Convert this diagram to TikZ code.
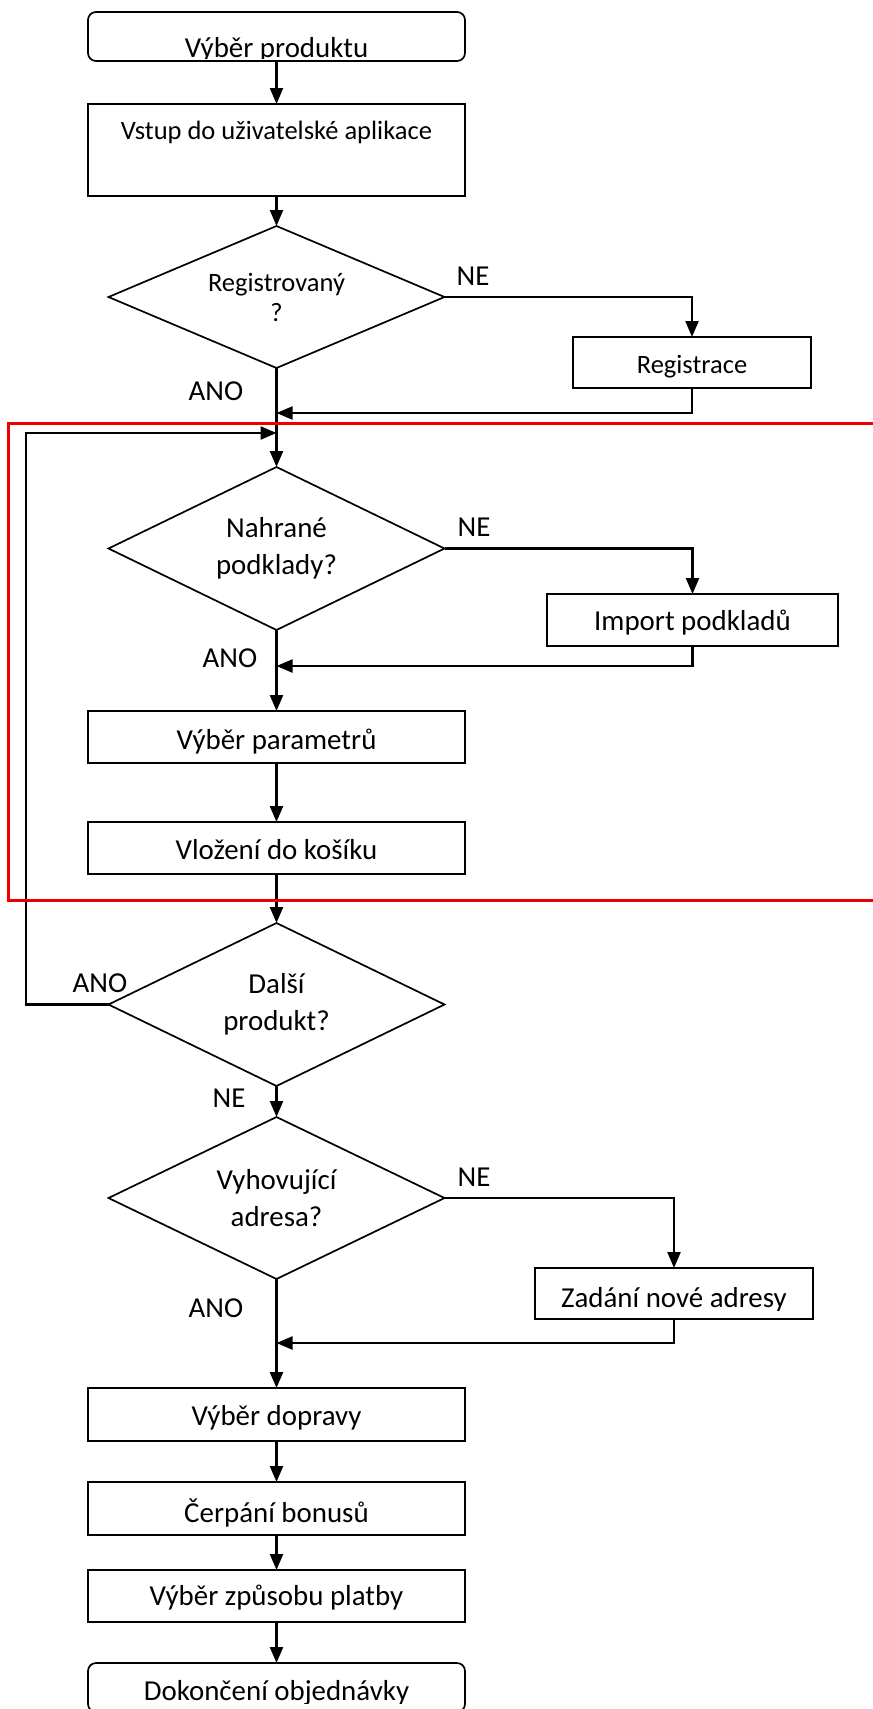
\documentclass[tikz,border=0pt]{standalone}
\usepackage{fontspec}
\setmainfont{Carlito}
\usetikzlibrary{shapes.geometric,arrows.meta}
\newcommand\fsmall{\fontsize{26.5}{30}\selectfont}
\newcommand\flarge{\fontsize{28.9}{37}\selectfont}
\definecolor{framered}{RGB}{238,0,0}
\begin{document}
\begin{tikzpicture}[x=1pt,y=-1pt,
  box/.style={draw, line width=1.7pt, rectangle, inner sep=0pt, outer sep=0pt,
    minimum width=377pt, font=\flarge, text depth=8pt},
  term/.style={box, rounded corners=8pt},
  decision/.style={draw, line width=1.7pt, diamond, inner sep=0pt, outer sep=0pt,
    align=center, minimum width=336pt, font=\flarge},
  flow/.style={line width=2.3pt, -{Triangle[length=16pt,width=13pt]}},
  answer/.style={font=\flarge, anchor=base, inner sep=0pt},
  cliptext/.style={font=\flarge, anchor=base, inner sep=0pt},
  frame/.style={draw=framered, line width=3pt},
]
\fill[white] (0,0) rectangle (873,1709);
\useasboundingbox (0,0) rectangle (873,1709);

% --- process boxes ---
\node[term, minimum height=49pt] (start) at (276.5,36.5) {};
\node[box, minimum height=92pt, font=\fsmall, text height=8pt, text depth=30pt] (vstup) at (276.5,150) {Vstup do uživatelské aplikace};
\node[box, minimum width=238pt, minimum height=51pt, font=\fsmall, text height=29pt] (reg) at (692,362.5) {Registrace};
\node[box, minimum width=291pt, minimum height=52pt, text height=28pt] (imp) at (692.5,620) {Import podkladů};
\node[box, minimum height=52pt, text height=32pt] (par) at (276.5,737) {Výběr parametrů};
\node[box, minimum height=52pt, text height=30pt] (vloz) at (276.5,848) {Vložení do košíku};
\node[box, minimum width=278pt, minimum height=51pt] (zad) at (674,1293.5) {};
\node[box, minimum height=53pt, text height=29pt] (dop) at (276.5,1414.5) {Výběr dopravy};
\node[box, minimum height=53pt] (cer) at (276.5,1508.5) {};
\node[box, minimum height=52pt, text height=26pt] (pla) at (276.5,1596) {Výběr způsobu platby};
\node[term, minimum height=49pt] (dok) at (276.5,1687.5) {};

% texts whose lower part is cut off by the text frame
\begin{scope}
  \clip (88,12) rectangle (465,58.5);
  \node[cliptext] (startT) at (276.5,57) {Výběr produktu};
\end{scope}
\begin{scope}
  \clip (535,1268) rectangle (813,1310);
  \node[cliptext] (zadT) at (674,1307) {Zadání nové adresy};
\end{scope}
\begin{scope}
  \clip (88,1482) rectangle (465,1528);
  \node[cliptext] (cerT) at (276.5,1522) {Čerpání bonusů};
\end{scope}
\begin{scope}
  \clip (88,1663) rectangle (465,1703);
  \node[cliptext] (dokT) at (276.5,1700) {Dokončení objednávky};
\end{scope}

% --- decisions ---
\node[decision, minimum height=142pt, aspect=2.37, font=\fsmall] (d1) at (276.5,297) {Registrovaný\\?};
\node[decision, minimum height=163pt, aspect=2.06] (d2) at (276.5,548.5) {Nahrané\\podklady?};
\node[decision, minimum height=163pt, aspect=2.06] (d3) at (276.5,1004.5) {Další\\produkt?};
\node[decision, minimum height=162pt, aspect=2.07] (d4) at (276.5,1198) {Vyhovující\\adresa?};

% --- junction points on the main line ---
\coordinate (j1) at (276.5,413);
\coordinate (j2) at (276.5,433);
\coordinate (lp) at (26,433);
\coordinate (j3) at (276.5,666);
\coordinate (j4) at (276.5,1343);

% --- connectors ---
\draw[flow] (start.south) -- (vstup.north);
\draw[flow] (vstup.south) -- (d1.north);
\draw[flow] (d1.east) -| (reg.north);
\draw[flow] (reg.south) |- (j1);
\draw[flow] (d1.south) -- (d2.north);
\draw[flow] (d2.east) -| (imp.north);
\draw[flow] (imp.south) |- (j3);
\draw[flow] (d2.south) -- (par.north);
\draw[flow] (par.south) -- (vloz.north);
\draw[flow] (vloz.south) -- (d3.north);
\draw[flow] (d3.west) -| (lp) -- (j2);
\draw[flow] (d3.south) -- (d4.north);
\draw[flow] (d4.east) -| (zad.north);
\draw[flow] (zad.south) |- (j4);
\draw[flow] (d4.south) -- (dop.north);
\draw[flow] (dop.south) -- (cer.north);
\draw[flow] (cer.south) -- (pla.north);
\draw[flow] (pla.south) -- (dok.north);

% --- branch labels ---
\node[answer] (ne1) at (473,285) {NE};
\node[answer] (ano1) at (216,400) {ANO};
\node[answer] (ne2) at (474,536) {NE};
\node[answer] (ano2) at (230,667) {ANO};
\node[answer] (ano3) at (100,992) {ANO};
\node[answer] (ne3) at (229,1107) {NE};
\node[answer] (ne4) at (474,1186) {NE};
\node[answer] (ano4) at (216,1317) {ANO};

% --- highlighted section ---
\draw[frame] (880,423) -- (8,423) -- (8,900) -- (880,900);
\end{tikzpicture}
\end{document}
